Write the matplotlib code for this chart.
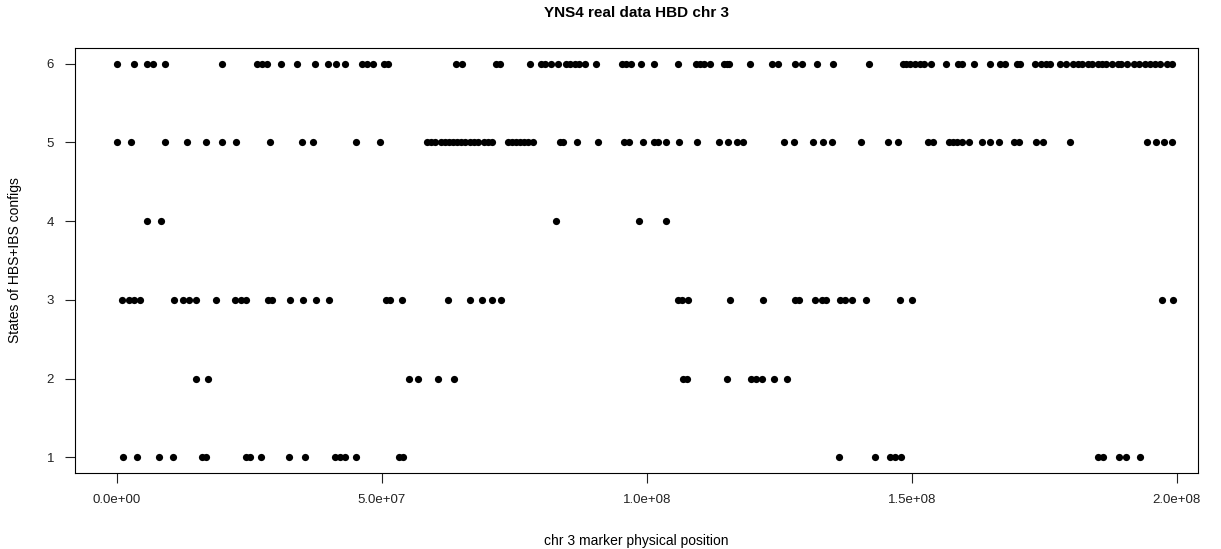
import matplotlib
matplotlib.use("Agg")
import matplotlib.pyplot as plt

# marker positions (Mb) for each HBS+IBS state
state1 = [1.1, 3.8, 7.9, 10.6, 16.0, 16.8, 24.3, 25.1, 27.2, 32.5, 35.5, 41.1, 42.1,
          43.0, 45.1, 53.2, 54.0, 136.2, 143.0, 145.8, 146.8, 147.9, 185.1, 186.0,
          189.1, 190.4, 193.0]
state2 = [14.9, 17.2, 55.1, 56.8, 60.6, 63.6, 106.8, 107.5, 115.1, 119.6, 120.6,
          121.7, 124.0, 126.4]
state3 = [0.9, 2.3, 3.2, 4.3, 10.8, 12.5, 13.6, 14.9, 18.7, 22.3, 23.4, 24.3, 28.5,
          29.2, 32.6, 35.1, 37.5, 40.0, 50.8, 51.5, 53.8, 62.5, 66.6, 68.9, 70.8,
          72.5, 105.8, 106.6, 107.7, 115.7, 121.9, 127.9, 128.7, 131.7, 133.0, 133.8,
          136.4, 137.4, 138.7, 141.3, 147.7, 150.0, 197.2, 199.2]
state4 = [5.7, 8.3, 82.8, 98.5, 103.6]
state5 = [0.0, 2.6, 9.1, 13.2, 16.8, 19.8, 22.5, 28.9, 34.9, 37.0, 45.1, 49.6,
          58.5, 59.2, 60.0, 61.1, 61.9, 62.6, 63.4, 64.2, 64.9, 65.7, 66.6, 67.4,
          68.1, 69.2, 70.0, 70.8, 73.8, 74.5, 75.3, 76.0, 76.8, 77.5, 78.5, 83.6,
          84.2, 86.8, 90.8, 95.7, 96.6, 99.2, 101.3, 102.1, 103.6, 106.0, 109.4,
          113.6, 115.3, 117.0, 118.1, 125.8, 127.7, 131.3, 133.2, 134.9, 140.4,
          145.5, 147.4, 153.0, 154.0, 157.0, 157.7, 158.5, 159.4, 160.8, 163.2,
          164.7, 166.4, 169.2, 170.2, 173.4, 174.7, 179.8, 194.3, 196.0, 197.5, 199.1]
state6 = [0.0, 3.2, 5.7, 6.8, 9.1, 19.8, 26.4, 27.4, 28.3, 30.9, 34.0, 37.4, 39.8,
          41.3, 43.0, 46.2, 47.2, 48.3, 50.4, 51.1, 64.0, 65.1, 71.5, 72.3, 77.9,
          80.0, 80.8, 81.9, 83.2, 84.7, 85.5, 86.4, 87.2, 88.3, 90.4, 95.3, 96.0,
          97.0, 98.9, 101.3, 105.8, 109.2, 110.0, 110.8, 111.9, 114.5, 115.1, 115.5,
          119.4, 123.6, 124.7, 127.9, 129.2, 132.1, 135.1, 141.9, 148.3, 148.9, 149.6,
          150.6, 151.5, 152.3, 153.6, 156.4, 158.7, 159.4, 161.7, 164.7, 166.6, 167.5,
          169.8, 170.4, 173.2, 174.3, 175.3, 176.0, 177.9, 179.1, 180.4, 181.3, 182.1,
          183.2, 184.0, 185.1, 185.8, 186.6, 187.7, 188.9, 189.4, 190.6, 191.9, 192.8,
          194.0, 194.9, 195.8, 196.8, 198.1, 199.1]

states = [state1, state2, state3, state4, state5, state6]
x_ticks = [0, 5e7, 1e8, 1.5e8, 2e8]
x_tick_labels = ["0.0e+00", "5.0e+07", "1.0e+08", "1.5e+08", "2.0e+08"]
y_ticks = [1, 2, 3, 4, 5, 6]

plt.rcParams['font.family'] = ['Liberation Sans', 'DejaVu Sans']

fig = plt.figure(figsize=(12.21, 5.49), dpi=100)
ax = fig.add_axes([75/1221, 1 - 473/549, (1198 - 75)/1221, (473 - 48)/549])

for i, pos in enumerate(states):
    xs = [p * 1e6 for p in pos]
    ax.plot(xs, [i + 1] * len(xs), 'o', color='black', markersize=5.2,
            markeredgewidth=0, linestyle='none')

ax.set_xlim(-7.9e6, 204e6)
ax.set_ylim(0.8, 6.2)
ax.set_xticks(x_ticks)
ax.set_xticklabels(x_tick_labels)
ax.set_yticks(y_ticks)
ax.set_yticklabels([str(v) for v in y_ticks])
ax.tick_params(direction='out', length=7, width=0.8, labelsize=9.5, pad=8,
               colors='#222222', labelcolor='#222222')
for s in ax.spines.values():
    s.set_linewidth(0.8)

ax.set_title("YNS4 real data HBD chr 3", fontsize=11, fontweight='bold', pad=22)
ax.set_xlabel("chr 3 marker physical position", fontsize=10, labelpad=20)
ax.set_ylabel("States of HBS+IBS configs", fontsize=10, labelpad=18)

fig.savefig("out.png", dpi=100)
